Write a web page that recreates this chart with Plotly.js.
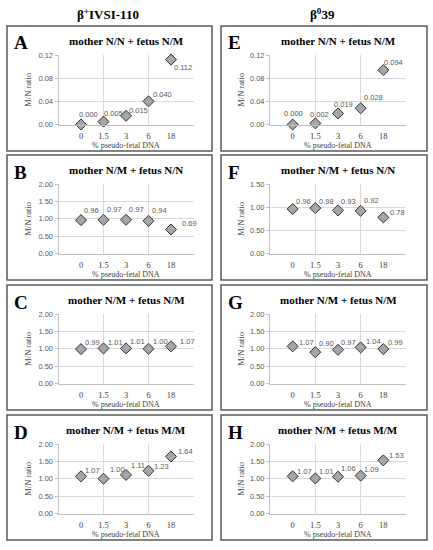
<!DOCTYPE html>
<html>
<head>
<meta charset="utf-8">
<script src="https://cdn.plot.ly/plotly-3.0.1.min.js"></script>
<style>html,body{margin:0;padding:0;background:#fff;}#chart{width:433px;height:550px;}</style>
</head>
<body>
<div id="chart"></div>
<script>
// ---- data ----
const categories = ["0", "1.5", "3", "6", "18"];
const columnTitles = ["β<sup>+</sup>IVSI-110", "β<sup>0</sup>39"];
const panelLetters = ["A", "B", "C", "D", "E", "F", "G", "H"];
const panelTitles = [
  "mother N/N + fetus N/M", "mother N/M + fetus N/N", "mother N/M + fetus N/M", "mother N/M + fetus M/M",
  "mother N/N + fetus N/M", "mother N/M + fetus N/N", "mother N/M + fetus N/M", "mother N/M + fetus M/M"
];
const valuesA = [0.000, 0.005, 0.015, 0.040, 0.112];
const valuesB = [0.96, 0.97, 0.97, 0.94, 0.69];
const valuesC = [0.99, 1.01, 1.01, 1.00, 1.07];
const valuesD = [1.07, 1.00, 1.11, 1.23, 1.64];
const valuesE = [0.000, 0.002, 0.019, 0.028, 0.094];
const valuesF = [0.96, 0.98, 0.93, 0.92, 0.78];
const valuesG = [1.07, 0.90, 0.97, 1.04, 0.99];
const valuesH = [1.07, 1.01, 1.06, 1.09, 1.53];
const yMax = [0.12, 2, 2, 2, 0.12, 1.5, 2, 2];
const yStep = [0.04, 0.5, 0.5, 0.5, 0.04, 0.5, 0.5, 0.5];
const xTitle = "% pseudo-fetal DNA";
const yTitle = "M/N ratio";

// ---- layout / style settings (pixels) ----
const W = 433, H = 550;
const allValues = [valuesA, valuesB, valuesC, valuesD, valuesE, valuesF, valuesG, valuesH];
const decimals = [3, 2, 2, 2, 3, 2, 2, 2];
// label offsets relative to marker: left edge shift (px) and vertical centre shift (px, up positive)
const labelDx = [
  [-3, -1, 2, 3, 2], [2, 2, 2, 2, 10], [3, 3, 3, 3, 8], [3, 5, 4, 4, 6],
  [-10, -6, -5, 2, 0], [2, 3, 2, 2, 6], [5, 3, 2, 4, 4], [3, 3, 2, 2, 5]
];
const labelDy = [
  [10, 8, 5, 7, -8], [10, 10, 10, 10, 6], [7, 6, 7, 7, 5], [6, 9, 9, 4, 5],
  [11, 9, 9, 11, 8], [8, 7, 9, 10, 5], [4, 9, 7, 6, 7], [5, 7, 8, 6, 5]
];
const boxTops = [26, 155, 285, 415];
const boxH = 125;
const boxX = [[7, 212], [221, 427]];
const plotX = [[58.5, 193.5], [270, 406]];
const yTitleX = [28, 241];
const plotTopOff = 29, plotBotOff = 98.5;

const serif = "Liberation Serif, Times New Roman, serif";
const sans = "Liberation Sans, Arial, sans-serif";

const xIndex = categories.map((_, i) => i + 1);
const traces = [];
const layout = {
  width: W, height: H,
  margin: {l: 0, r: 0, t: 0, b: 0},
  paper_bgcolor: "#fff", plot_bgcolor: "#fff",
  showlegend: false,
  shapes: [], annotations: []
};

for (let p = 0; p < 8; p++) {
  const col = Math.floor(p / 4), row = p % 4;
  const n = p + 1;
  const xa = "xaxis" + (n === 1 ? "" : n), ya = "yaxis" + (n === 1 ? "" : n);
  const xr = "x" + (n === 1 ? "" : n), yr = "y" + (n === 1 ? "" : n);
  const top = boxTops[row];
  const pt = top + plotTopOff, pb = top + plotBotOff;
  const vals = allValues[p];

  traces.push({
    type: "scatter", mode: "markers",
    x: xIndex, y: vals,
    xaxis: xr, yaxis: yr,
    marker: {symbol: "diamond", size: 8.5, color: "#a6a6a6", line: {color: "#333333", width: 1}},
    cliponaxis: false, hoverinfo: "skip"
  });

  // data labels
  vals.forEach((v, i) => {
    layout.annotations.push({
      xref: xr, yref: yr, x: xIndex[i], y: v,
      xanchor: "left", yanchor: "middle",
      xshift: labelDx[p][i], yshift: labelDy[p][i],
      showarrow: false, borderpad: 0,
      text: v.toFixed(decimals[p]),
      font: {family: sans, size: 7.5, color: "#595959"}
    });
  });

  layout[xa] = {
    domain: [plotX[col][0] / W, plotX[col][1] / W],
    anchor: yr, range: [0, 6],
    tickmode: "array", tickvals: xIndex, ticktext: categories,
    showgrid: false, zeroline: false,
    showline: true, linecolor: "#bfbfbf", linewidth: 1,
    ticks: "outside", ticklen: 3, tickcolor: "rgba(0,0,0,0)",
    tickfont: {family: serif, size: 8.5, color: "#404040"},
    minor: {tickmode: "array", tickvals: [2, 4, 6], showgrid: true, gridcolor: "#d9d9d9", gridwidth: 1, ticks: ""},
    fixedrange: true
  };
  layout[ya] = {
    domain: [(H - pb) / H, (H - pt) / H],
    anchor: xr, range: [0, yMax[p]],
    tickmode: "linear", tick0: 0, dtick: yStep[p], tickformat: ".2f",
    showgrid: true, gridcolor: "#d9d9d9", gridwidth: 1, zeroline: false,
    showline: true, linecolor: "#bfbfbf", linewidth: 1,
    ticks: "outside", ticklen: 3, tickcolor: "#bfbfbf",
    tickfont: {family: sans, size: 7.5, color: "#595959"},
    fixedrange: true
  };

  // axis titles
  layout.annotations.push({
    xref: "paper", yref: "paper",
    x: (plotX[col][0] + plotX[col][1]) / 2 / W, y: (H - top - 119.5) / H,
    xanchor: "center", yanchor: "middle", showarrow: false,
    text: xTitle, font: {family: serif, size: 8, color: "#404040"}
  });
  layout.annotations.push({
    xref: "paper", yref: "paper",
    x: yTitleX[col] / W, y: (H - (pt + pb) / 2) / H,
    xanchor: "center", yanchor: "middle", showarrow: false, textangle: -90,
    text: yTitle, font: {family: serif, size: 8.5, color: "#404040"}
  });

  // panel frame
  layout.shapes.push({
    type: "rect", xref: "paper", yref: "paper",
    x0: boxX[col][0] / W, x1: boxX[col][1] / W,
    y0: (H - top - boxH) / H, y1: (H - top) / H,
    line: {color: "#595959", width: 1.5}, fillcolor: "rgba(0,0,0,0)", layer: "below"
  });
  // panel letter
  layout.annotations.push({
    xref: "paper", yref: "paper",
    x: (boxX[col][0] + 5) / W, y: (H - top - 17) / H,
    xanchor: "left", yanchor: "middle", showarrow: false,
    text: "<b>" + panelLetters[p] + "</b>",
    font: {family: serif, size: 19, color: "#000"}
  });
  // panel title
  layout.annotations.push({
    xref: "paper", yref: "paper",
    x: (plotX[col][0] + plotX[col][1]) / 2 / W, y: (H - top - 15) / H,
    xanchor: "center", yanchor: "middle", showarrow: false,
    text: "<b>" + panelTitles[p] + "</b>",
    font: {family: serif, size: 11, color: "#000"}
  });
}

// column titles
for (let c = 0; c < 2; c++) {
  layout.annotations.push({
    xref: "paper", yref: "paper",
    x: (c === 0 ? 108 : 322) / W, y: (H - 14) / H,
    xanchor: "center", yanchor: "middle", showarrow: false,
    text: "<b>" + columnTitles[c] + "</b>",
    font: {family: serif, size: 13, color: "#000"}
  });
}

Plotly.newPlot("chart", traces, layout, {displayModeBar: false, staticPlot: true});
</script>
</body>
</html>
